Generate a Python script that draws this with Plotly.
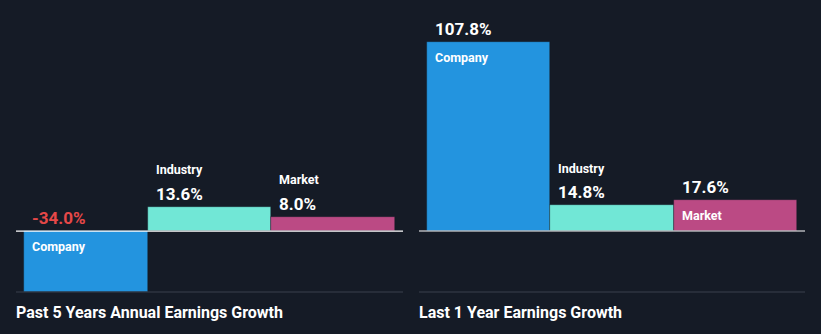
import plotly.graph_objects as go

categories = ["Company", "Industry", "Market"]
past5_values = [-34.0, 13.6, 8.0]
last1_values = [107.8, 14.8, 17.6]
panel_titles = ["Past 5 Years Annual Earnings Growth", "Last 1 Year Earnings Growth"]
label_inside = [[True, False, False], [True, False, True]]

BG = "#151b26"
colors = ["#2394df", "#71e7d6", "#bb4a84"]
W, H = 821, 334

fig = go.Figure()
panels = [past5_values, last1_values]
xdoms = [[16 / W, 403 / W], [419 / W, 805 / W]]
ydom = [(H - 292) / H, (H - 20) / H]
yranges = [[-34.0, 117.8], [-34.8, 120.4]]
xpos = [0, 1, 2]

annotations = []
shapes = []
for p, vals in enumerate(panels):
    xa = "x" if p == 0 else "x2"
    ya = "y" if p == 0 else "y2"
    fig.add_trace(go.Bar(
        x=xpos, y=vals, width=1, marker=dict(color=colors, line=dict(width=0.6, color="rgba(21,27,38,0.6)")),
        xaxis=xa, yaxis=ya, showlegend=False, hoverinfo="skip"))
    for i, v in enumerate(vals):
        top = max(v, 0)
        vcol = "#e64848" if v < 0 else "#ffffff"
        annotations.append(dict(x=i - 0.5, y=top, xref=xa, yref=ya, xanchor="left", yanchor="middle",
                                xshift=6, yshift=13, showarrow=False, text=f"{v:.1f}%",
                                font=dict(family="Roboto", size=17, color=vcol, weight="bold")))
        if label_inside[p][i]:
            ny = v if v > 0 else 0
            annotations.append(dict(x=i - 0.5, y=ny, xref=xa, yref=ya, xanchor="left", yanchor="middle",
                                    xshift=6, yshift=-15, showarrow=False, text=categories[i],
                                    font=dict(family="Roboto", size=12.5, color="#ffffff", weight="bold")))
        else:
            annotations.append(dict(x=i - 0.5, y=top, xref=xa, yref=ya, xanchor="left", yanchor="middle",
                                    xshift=6, yshift=37, showarrow=False, text=categories[i],
                                    font=dict(family="Roboto", size=12.5, color="#ffffff", weight="bold")))
    # zero line
    shapes.append(dict(type="line", xref=f"{xa} domain", yref=ya, x0=0, x1=1, y0=0, y1=0,
                       line=dict(color="#ffffff", width=1.2), layer="above"))
    # bottom line
    shapes.append(dict(type="line", xref=f"{xa} domain", yref="paper", x0=0, x1=1, y0=ydom[0], y1=ydom[0],
                       line=dict(color="#3b414c", width=1.2), layer="above"))
    annotations.append(dict(x=xdoms[p][0], y=(H - 312) / H, xref="paper", yref="paper", xanchor="left",
                            yanchor="middle", xshift=-2, showarrow=False, text=panel_titles[p],
                            font=dict(family="Roboto", size=16, color="#ffffff", weight="bold")))

axis_common = dict(showgrid=False, zeroline=False, showticklabels=False, showline=False, fixedrange=True)
fig.update_layout(
    width=W, height=H, margin=dict(l=0, r=0, t=0, b=0),
    paper_bgcolor=BG, plot_bgcolor=BG, bargap=0,
    xaxis=dict(domain=xdoms[0], range=[-0.565, 2.565], **axis_common),
    xaxis2=dict(domain=xdoms[1], range=[-0.565, 2.565], **axis_common),
    yaxis=dict(domain=ydom, range=yranges[0], anchor="x", **axis_common),
    yaxis2=dict(domain=ydom, range=yranges[1], anchor="x2", **axis_common),
    annotations=annotations, shapes=shapes,
)
fig.write_html("out.html")
